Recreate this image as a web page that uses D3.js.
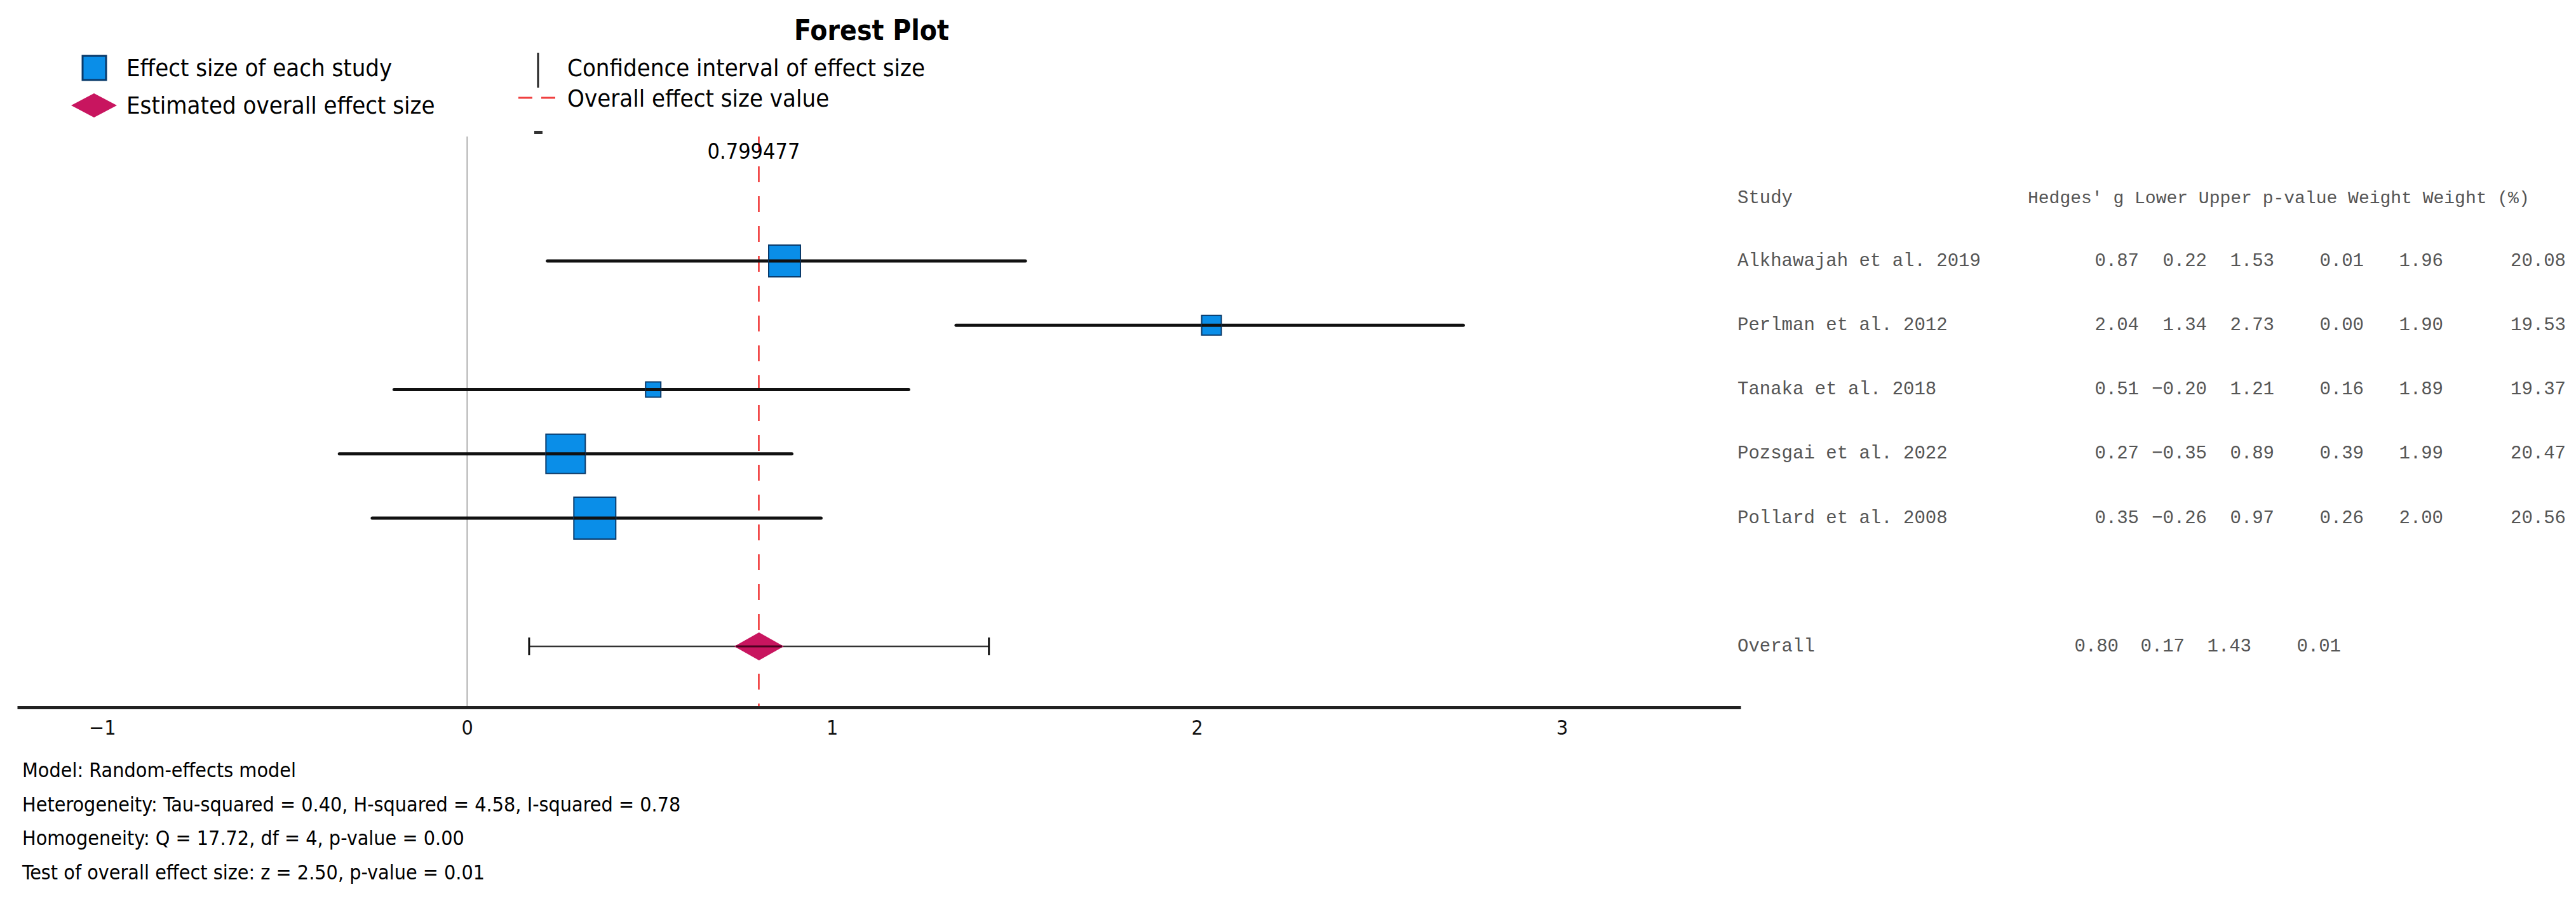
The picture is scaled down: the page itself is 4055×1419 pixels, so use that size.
<!DOCTYPE html>
<html><head><meta charset="utf-8">
<script src="https://cdn.jsdelivr.net/npm/d3@7"></script>
<style>body{margin:0;background:#fff}svg{display:block}
.sans{font-family:"DejaVu Sans";font-stretch:condensed}
.mono{font-family:"Liberation Mono",monospace;fill:#555}</style>
</head><body><div id="c"></div>
<script>
const studies = ["Alkhawajah et al. 2019","Perlman et al. 2012","Tanaka et al. 2018","Pozsgai et al. 2022","Pollard et al. 2008"];
const hedges = [0.87,2.04,0.51,0.27,0.35];
const lower = [0.22,1.34,-0.20,-0.35,-0.26];
const upper = [1.53,2.73,1.21,0.89,0.97];
const pvals = [0.01,0.00,0.16,0.39,0.26];
const weights = [1.96,1.90,1.89,1.99,2.00];
const weightPct = [20.08,19.53,19.37,20.47,20.56];
const markerSize = [50,31,24,62,66];
const overall = {g:0.80, lower:0.17, upper:1.43, p:0.01, exact:0.799477};
const xTicks = [-1,0,1,2,3];
const footer = ["Model: Random-effects model",
 "Heterogeneity: Tau-squared = 0.40, H-squared = 4.58, I-squared = 0.78",
 "Homogeneity: Q = 17.72, df = 4, p-value = 0.00",
 "Test of overall effect size: z = 2.50, p-value = 0.01"];

const W=4055,H=1419;
const svg=d3.select("#c").append("svg").attr("width",W).attr("height",H);
const x=d3.scaleLinear().domain([-1.233,3.49]).range([27,2740]);
const rows=studies.concat(["Overall"]);
const y=d3.scalePoint().domain(studies).range([411,816]);
const yOverall=1018;

// title
svg.append("text").attr("class","sans").attr("x",1372).attr("y",47).attr("text-anchor","middle")
 .attr("dominant-baseline","central").attr("font-size",44).attr("font-weight","bold").text("Forest Plot");
// legend
svg.append("rect").attr("x",130).attr("y",88).attr("width",37).attr("height",38).attr("fill","#0a8ee8").attr("stroke","#0a3a6a").attr("stroke-width",3);
svg.append("path").attr("d","M112,166 L148,147 L184,166 L148,185 Z").attr("fill","#c8155f");
svg.append("line").attr("x1",847).attr("x2",847).attr("y1",83).attr("y2",138).attr("stroke","#222").attr("stroke-width",3);
svg.append("line").attr("x1",816).attr("x2",878).attr("y1",154).attr("y2",154).attr("stroke","#f04040").attr("stroke-width",3).attr("stroke-dasharray","22,14");
[["Effect size of each study",199,107],["Estimated overall effect size",199,166],["Confidence interval of effect size",893,107],["Overall effect size value",893,155]]
 .forEach(d=>svg.append("text").attr("class","sans").attr("x",d[1]).attr("y",d[2]).attr("dominant-baseline","central").attr("font-size",38).text(d[0]));
svg.append("rect").attr("x",841).attr("y",206).attr("width",13).attr("height",5).attr("fill","#333");

// zero line
svg.append("line").attr("x1",x(0)).attr("x2",x(0)).attr("y1",215).attr("y2",1114).attr("stroke","#999").attr("stroke-width",1.5);
// red dashed overall line
svg.append("line").attr("x1",x(overall.exact)).attr("x2",x(overall.exact)).attr("y1",215).attr("y2",1114)
 .attr("stroke","#f03030").attr("stroke-width",2.5).attr("stroke-dasharray","25,22");
svg.append("text").attr("class","sans").attr("x",x(overall.exact)-8).attr("y",238).attr("text-anchor","middle")
 .attr("dominant-baseline","central").attr("font-size",34).text(overall.exact.toString());

// axis
const ax=svg.append("g").attr("transform","translate(0,1114)")
 .call(d3.axisBottom(x).tickValues(xTicks).tickSize(0).tickPadding(20).tickFormat(d3.format("d")));
ax.select(".domain").attr("stroke","#222").attr("stroke-width",5);
ax.selectAll("text").attr("class","sans").attr("font-size",32).attr("fill","#111");

// study rows
studies.forEach((s,i)=>{
 svg.append("line").attr("x1",x(lower[i])).attr("x2",x(upper[i])).attr("y1",y(s)).attr("y2",y(s))
  .attr("stroke","#111").attr("stroke-width",5).attr("stroke-linecap","round");
 const m=markerSize[i];
 svg.append("rect").attr("x",x(hedges[i])-m/2).attr("y",y(s)-m/2).attr("width",m).attr("height",m)
  .attr("fill","#0a8ee8").attr("stroke","#0a3a6a").attr("stroke-width",2);
 svg.append("line").attr("x1",x(hedges[i])-m/2).attr("x2",x(hedges[i])+m/2).attr("y1",y(s)).attr("y2",y(s))
  .attr("stroke","#111").attr("stroke-width",5);
});
// overall
svg.append("line").attr("x1",x(overall.lower)).attr("x2",x(overall.upper)).attr("y1",yOverall).attr("y2",yOverall).attr("stroke","#333").attr("stroke-width",2.5);
[overall.lower,overall.upper].forEach(v=>svg.append("line").attr("x1",x(v)).attr("x2",x(v)).attr("y1",yOverall-14).attr("y2",yOverall+14).attr("stroke","#111").attr("stroke-width",3));
const cx=x(overall.g);
svg.append("path").attr("d",`M${cx-39},${yOverall} L${cx},${yOverall-22} L${cx+39},${yOverall} L${cx},${yOverall+22} Z`).attr("fill","#c8155f");
svg.append("line").attr("x1",cx-36).attr("x2",cx+36).attr("y1",yOverall).attr("y2",yOverall).attr("stroke","#4a0020").attr("stroke-width",3);

// table
const t=svg.append("g").attr("class","mono").attr("font-size",29);
t.append("text").attr("x",2735).attr("y",312).attr("dominant-baseline","central").text("Study");
t.append("text").attr("x",3192).attr("y",312).attr("dominant-baseline","central").attr("font-size",28).text("Hedges' g Lower Upper p-value Weight Weight (%)");
const colX=[3367,3474,3580,3721,3846,4039];
const f=d3.format(".2f");
studies.forEach((s,i)=>{
 t.append("text").attr("x",2735).attr("y",y(s)).attr("dominant-baseline","central").text(s);
 [hedges[i],lower[i],upper[i],pvals[i],weights[i],weightPct[i]].forEach((v,j)=>
  t.append("text").attr("x",colX[j]).attr("y",y(s)).attr("text-anchor","end").attr("dominant-baseline","central").text(f(v)));
});
t.append("text").attr("x",2735).attr("y",yOverall).attr("dominant-baseline","central").text("Overall");
[[overall.g,3335],[overall.lower,3439],[overall.upper,3544],[overall.p,3685]].forEach(d=>
 t.append("text").attr("x",d[1]).attr("y",yOverall).attr("text-anchor","end").attr("dominant-baseline","central").text(f(d[0])));

// footer
footer.forEach((s,i)=>svg.append("text").attr("class","sans").attr("x",35).attr("y",1213+i*53.5)
 .attr("dominant-baseline","central").attr("font-size",32).text(s));
</script></body></html>
